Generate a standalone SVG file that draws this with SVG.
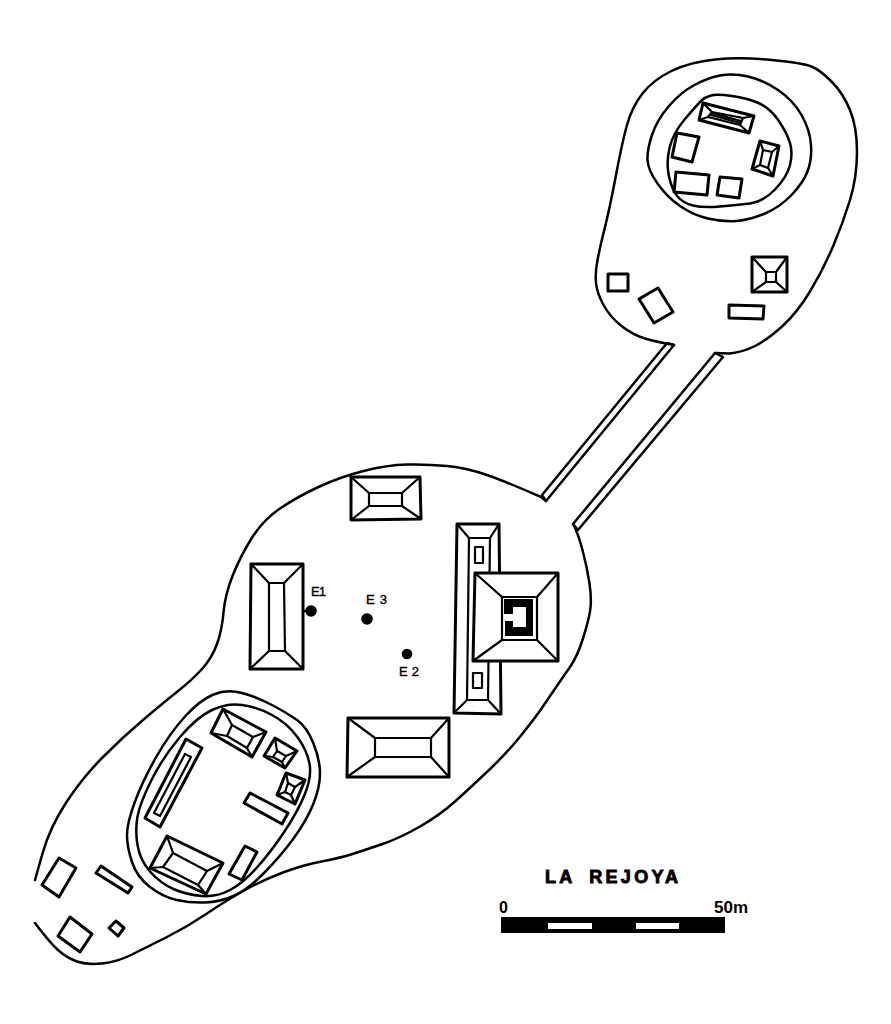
<svg xmlns="http://www.w3.org/2000/svg" width="891" height="1024" viewBox="0 0 891 1024">
<style>
.t{fill:none;stroke:#000;stroke-width:2.5;stroke-linecap:round;stroke-linejoin:round}
.b{fill:#fff;stroke:#000;stroke-width:3;stroke-linejoin:round}
.k{fill:none;stroke:#000;stroke-width:2.2;stroke-linecap:round;stroke-linejoin:round}
.f{fill:#000;stroke:none}
.l{font-family:"Liberation Sans",Arial,sans-serif;fill:#000}
.e{font-size:13px;stroke:#000;stroke-width:.35}
</style>
<rect width="891" height="1024" fill="#fff"/>
<g id="terrain">
<path class="t" d="M674 345 Q657 342 645 338.5 Q633 335 621.5 326 Q610 317 603.5 305 Q597 293 596 283 Q595 273 597.5 260 Q600 247 605 227 Q610 207 616 175 Q622 143 627 125 Q632 107 642.5 93.5 Q653 80 671.5 71 Q690 62 715 59.5 Q740 57 771.5 60 Q803 63 811.5 66.5 Q820 70 831.5 81.5 Q843 93 850 110 Q857 127 857 152 Q857 177 850 200 Q843 223 833 246.5 Q823 270 810 291.5 Q797 313 782 326.5 Q767 340 755 346 Q743 352 730 353.5 L715 353"/>
<path class="t" d="M720 75.5 Q733 73 748 76.5 Q763 80 778 90 Q793 100 801.5 115 Q810 130 811 145 Q812 160 807.5 171.5 Q803 183 791.5 195 Q780 207 765 213.5 Q750 220 736.5 221 Q723 222 708 218.5 Q693 215 680 206 Q667 197 657.5 183.5 Q648 170 647.5 160 Q647 150 652 135 Q657 120 668.5 106.5 Q680 93 693.5 85.5 Q707 78 720 75.5Z"/>
<path class="t" d="M711 95.5 Q717 94 732 96 Q747 98 758.5 103 Q770 108 778.5 120.5 Q787 133 790 143 Q793 153 790 165 Q787 177 775 189.5 Q763 202 750 203.5 Q737 205 720 206.5 Q703 208 693 205.5 Q683 203 677.5 196.5 Q672 190 669 176.5 Q666 163 669.5 148 Q673 133 685 119 Q697 105 701 101 Q705 97 711 95.5Z"/>
<path class="t" d="M546 501 L541 497 Q507 482 487 475 Q467 468 447 466 Q427 464 407 464.5 Q387 465 363.5 471 Q340 477 318.5 487 Q297 497 280 508.5 Q263 520 251.5 538.5 Q240 557 232.5 576 Q225 595 223.5 612.5 Q222 630 217 644 Q212 658 202 669 Q192 680 177.5 691.5 Q163 703 143 720 Q123 737 103 757 Q83 777 66.5 802 Q50 827 42.5 853.5 L35 880"/>
<path class="t" d="M35 923 Q50 943 58.5 950.5 Q67 958 77 961.5 Q87 965 102 963.5 Q117 962 132 954.5 Q147 947 167 937 Q187 927 207 913.5 Q227 900 245 890 Q263 880 283 872.5 Q303 865 321.5 861.5 Q340 858 352.5 854 Q365 850 382.5 844 Q400 838 420 826.5 Q440 815 455 801.5 Q470 788 488.5 770.5 Q507 753 521 735.5 Q535 718 541.5 708.5 Q548 699 555.5 688 Q563 677 570 667 Q577 657 582.5 640 Q588 623 590 611.5 Q592 600 589.5 583.5 Q587 567 582.5 550 Q578 533 573 524"/>
<path class="t" d="M213.5 694.5 Q227 689 242 693 Q257 697 272 705 Q287 713 297 720 Q307 727 313.5 743.5 Q320 760 320 773.5 Q320 787 313.5 803.5 Q307 820 293.5 838.5 Q280 857 263.5 873.5 Q247 890 233.5 896 Q220 902 205 902.5 Q190 903 176.5 900 Q163 897 150 887 Q137 877 132 862 Q127 847 127 835 Q127 823 135 801.5 Q143 780 156.5 756.5 Q170 733 185 716.5 Q200 700 213.5 694.5Z"/>
<path class="t" d="M212 710 Q227 703 242 705 Q257 707 272 715 Q287 723 297 736.5 Q307 750 309.5 763.5 Q312 777 304.5 795 Q297 813 283.5 833 Q270 853 256.5 868 Q243 883 230 890 Q217 897 202 896 Q187 895 173.5 889 Q160 883 150 871.5 Q140 860 137.5 845 Q135 830 137.5 816.5 Q140 803 151.5 780 Q163 757 180 737 Q197 717 212 710Z"/>
</g>
<g id="connectors">
<path class="t" d="M542 495 L667 343 L674 345 L546 501 Z"/>
<path class="t" d="M573 524 L715 353 L723 357 L578 530 Z"/>
</g>
<g id="n-north-1"><polygon class="b" points="703,103 754,116 749,133 699,120"/><polygon class="k" points="712,112 743,118 740,125 708,117"/><path class="k" d="M703 103L712 112M754 116L743 118M749 133L740 125M699 120L708 117M712 113L741 121M711 115L740 123"/></g>
<g id="n-north-2"><polygon class="b" points="677,133 699,137 692,162 672,157"/></g>
<g id="n-north-3"><polygon class="b" points="760,141 779,146 773,176 752,169"/><polygon class="k" points="763,150 772,152 768,168 760,165"/><path class="k" d="M760 141L763 150M779 146L772 152M773 176L768 168M752 169L760 165"/></g>
<g id="n-north-4"><polygon class="b" points="676,172 709,175 707,195 674,192"/></g>
<g id="n-north-5"><polygon class="b" points="720,177 742,179 739,198 717,195"/></g>
<g id="n-north-6"><polygon class="b" points="752,257 787,257 787,292 752,292"/><polygon class="k" points="766,272 776,272 776,282 766,282"/><path class="k" d="M752 257L766 272M787 257L776 272M787 292L776 282M752 292L766 282"/></g>
<g id="n-north-7"><polygon class="b" points="729,305 764,306 763,319 729,318"/></g>
<g id="n-north-8"><polygon class="b" points="608,274 628,274 628,291 608,291"/></g>
<g id="n-north-9"><polygon class="b" points="658,288 673,312 654,323 639,299"/></g>
<g id="n-plaza-n"><polygon class="b" points="351,477 420,477 421,519 351,520"/><polygon class="k" points="369,493 402,493 402,506 369,506"/><path class="k" d="M351 477L369 493M420 477L402 493M421 519L402 506M351 520L369 506"/></g>
<g id="n-plaza-w"><polygon class="b" points="251,564 303,564 303,669 250,669"/><polygon class="k" points="269,583 284,583 285,651 269,651"/><path class="k" d="M251 564L269 583M303 564L284 583M303 669L285 651M250 669L269 651"/></g>
<g id="n-plaza-s"><polygon class="b" points="348,718 449,718 449,777 347,777"/><polygon class="k" points="375,738 431,738 431,757 375,757"/><path class="k" d="M348 718L375 738M449 718L431 738M449 777L431 757M347 777L375 757"/></g>
<g id="n-long-platform"><polygon class="b" points="457,524 499,524 501,714 454,713"/><polygon class="k" points="469,538 490,538 488,700 467,700"/><path class="k" d="M457 524L469 538M499 524L490 538M501 714L488 700M454 713L467 700"/><rect class="k" x="475" y="547" width="8" height="16"/><rect class="k" x="473" y="673" width="9" height="15"/></g>
<g id="n-great-pyramid"><polygon class="b" points="475,573 558,573 558,661 473,661"/><polygon class="k" points="502,597 537,597 537,640 502,640"/><path class="k" d="M475 573L502 597M558 573L537 597M558 661L537 640M473 661L502 640"/><path class="f" d="M504 599H533V636H505V621H513V627H526V607H513V614H504Z"/></g>
<g id="n-e1"><path class="k" d="M303 611H310"/><circle class="f" cx="311" cy="611" r="5.8"/><text class="l e" x="311" y="596" textLength="15" lengthAdjust="spacing">E1</text></g>
<g id="n-e3"><circle class="f" cx="367" cy="619" r="5.8"/><text class="l e" x="366" y="604" textLength="21" lengthAdjust="spacing">E3</text></g>
<g id="n-e2"><circle class="f" cx="407" cy="654" r="5.3"/><text class="l e" x="399" y="676" textLength="20" lengthAdjust="spacing">E2</text></g>
<g id="n-south-1"><polygon class="b" points="223,709 266,732 252,757 211,733"/><polygon class="k" points="232,725 253,737 247,748 227,736"/><path class="k" d="M223 709L232 725M266 732L253 737M252 757L247 748M211 733L227 736"/></g>
<g id="n-south-2"><polygon class="b" points="275,738 297,751 285,768 264,756"/><polygon class="k" points="277,751 286,756 282,762 273,757"/><path class="k" d="M275 738L277 751M297 751L286 756M285 768L282 762M264 756L273 757"/></g>
<g id="n-south-3"><polygon class="b" points="286,773 305,780 295,804 277,795"/><polygon class="k" points="288,783 295,787 291,795 285,792"/><path class="k" d="M286 773L288 783M305 780L295 787M295 804L291 795M277 795L285 792"/></g>
<g id="n-south-4"><polygon class="b" points="186,739 202,748 160,827 145,818"/><polygon class="k" points="185,754 191,757 160,816 154,813"/></g>
<g id="n-south-5"><polygon class="b" points="250,793 288,813 282,824 244,803"/></g>
<g id="n-south-6"><polygon class="b" points="245,846 257,852 242,880 229,874"/></g>
<g id="n-south-7"><polygon class="b" points="167,836 223,863 206,894 150,868"/><polygon class="k" points="173,853 207,871 198,885 163,867"/><path class="k" d="M167 836L173 853M223 863L207 871M206 894L198 885M150 868L163 867"/></g>
<g id="n-south-8"><polygon class="b" points="59,858 76,868 59,897 42,885"/></g>
<g id="n-south-9"><polygon class="b" points="101,866 132,887 128,893 96,873"/></g>
<g id="n-south-10"><polygon class="b" points="70,917 92,934 80,952 58,936"/></g>
<g id="n-south-11"><polygon class="b" points="116,921 124,928 118,936 109,928"/></g>
<g id="title"><text class="l" x="545" y="883" font-size="18" font-weight="bold" stroke="#000" stroke-width=".9" letter-spacing="3.3" word-spacing="6">LA REJOYA</text></g>
<g id="scale">
<rect class="f" x="501" y="917" width="224" height="16"/>
<rect x="548" y="923" width="44" height="6" fill="#fff"/>
<rect x="636" y="923" width="43" height="6" fill="#fff"/>
<text class="l" x="499" y="913" font-size="16" font-weight="bold">0</text>
<text class="l" x="714" y="913" font-size="17" font-weight="bold">50m</text>
</g>
</svg>
